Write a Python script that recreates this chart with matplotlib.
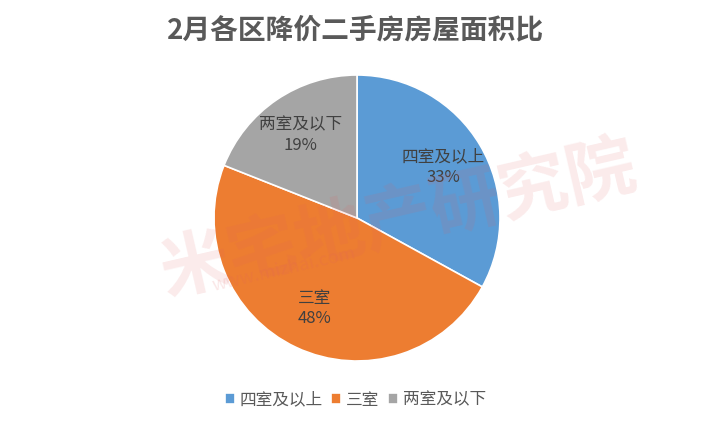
import matplotlib
matplotlib.use('Agg')
import matplotlib.pyplot as plt

plt.rcParams['font.family'] = ['Noto Sans CJK SC', 'DejaVu Sans']

#data
categories = ['四室及以上', '三室', '两室及以下']
shares = [33, 48, 19]
colors = ['#5B9BD5', '#ED7D31', '#A5A5A5']
title = '2月各区降价二手房房屋面积比'

fig = plt.figure(figsize=(7.11, 4.22), dpi=100)
ax = fig.add_axes([214/711, 61/422, 286/711, 286/422])

labels_iter = iter(categories)
wedges, texts, autotexts = ax.pie(
    shares, colors=colors, startangle=90, counterclock=False, radius=1,
    autopct=lambda p: '%s\n%.0f%%' % (next(labels_iter), p),
    pctdistance=0.7, wedgeprops=dict(edgecolor='white', linewidth=1.2),
    textprops=dict(color='#404040', fontsize=12))
for t in autotexts:
    t.set_linespacing(1.25)
ax.set_xlim(-1, 1)
ax.set_ylim(-1, 1)
ax.set_aspect('equal')

fig.text(0.5, 0.928, title, ha='center', va='center', fontsize=20,
         fontweight='bold', color='#595959')

#watermark
fig.text(0.56, 0.48, '米宅地产研究院', ha='center', va='center', fontsize=50,
         fontweight='bold', color='#E06060', alpha=0.13, rotation=13)
fig.text(0.4, 0.36, 'www.mizhai.com', ha='center', va='center', fontsize=13,
         color='#E06060', alpha=0.15, rotation=13)

fig.legend(wedges, categories, loc='center', bbox_to_anchor=(0.5, 0.052),
           ncol=3, frameon=False, fontsize=12, handlelength=0.6,
           handleheight=0.6, handletextpad=0.3, columnspacing=0.5,
           labelcolor='#595959')

fig.savefig('out.png', dpi=100)
